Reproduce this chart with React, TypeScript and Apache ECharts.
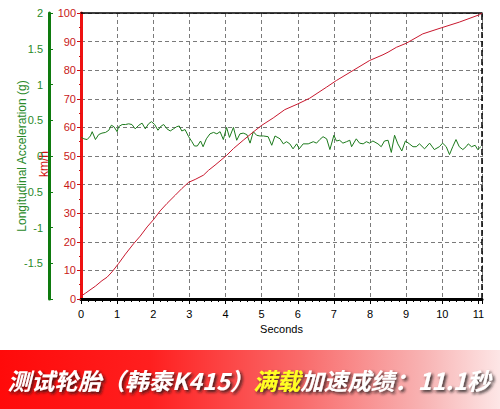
import React, { useEffect, useRef } from "react";
import * as echarts from "echarts";

const speedSeconds = [0, 0.12, 0.4, 0.58, 0.72, 0.86, 1.04, 1.23, 1.46, 1.64, 1.83, 2.01, 2.19, 2.38, 2.61, 2.79, 2.98, 3.16, 3.39, 3.53, 3.71, 4.03, 4.22, 4.49, 4.77, 5.0, 5.32, 5.64, 6.0, 6.33, 6.8, 7.07, 7.53, 7.99, 8.36, 8.5, 8.73, 9.0, 9.46, 9.97, 10.47, 11.03, 11.1];
const speedKmh = [1, 2, 4.5, 6.4, 7.6, 9.5, 12.4, 15.7, 19.4, 22, 25.2, 27.8, 30.8, 33.4, 36.3, 38.6, 40.8, 41.8, 43.3, 45, 46.8, 50.2, 52.6, 55.5, 58.4, 60.7, 63.3, 66.2, 68.2, 70.2, 74.1, 76.4, 79.9, 83.4, 85.4, 86.3, 88, 89.4, 92.7, 94.8, 96.8, 99.4, 100];

const accelSeconds = [0.01, 0.08, 0.17, 0.26, 0.31, 0.40, 0.49, 0.58, 0.68, 0.77, 0.84, 0.91, 1.0, 1.04, 1.14, 1.23, 1.32, 1.41, 1.50, 1.60, 1.69, 1.78, 1.87, 1.95, 2.04, 2.13, 2.22, 2.29, 2.38, 2.47, 2.56, 2.65, 2.72, 2.79, 2.88, 2.98, 3.07, 3.14, 3.22, 3.31, 3.38, 3.47, 3.57, 3.67, 3.76, 3.85, 3.94, 4.03, 4.11, 4.22, 4.31, 4.40, 4.49, 4.59, 4.68, 4.77, 4.86, 4.95, 5.05, 5.18, 5.28, 5.37, 5.51, 5.60, 5.69, 5.78, 5.87, 5.97, 6.04, 6.15, 6.29, 6.43, 6.52, 6.61, 6.70, 6.80, 6.89, 7.0, 7.07, 7.16, 7.25, 7.35, 7.44, 7.49, 7.62, 7.71, 7.81, 7.90, 7.99, 8.08, 8.22, 8.31, 8.40, 8.50, 8.59, 8.68, 8.77, 8.88, 8.98, 9.09, 9.19, 9.28, 9.37, 9.51, 9.65, 9.78, 9.92, 10.01, 10.11, 10.20, 10.29, 10.38, 10.47, 10.57, 10.66, 10.72, 10.81, 10.91, 10.98, 11.07];
const accelG = [0.26, 0.24, 0.23, 0.28, 0.34, 0.23, 0.30, 0.32, 0.33, 0.36, 0.43, 0.41, 0.34, 0.41, 0.44, 0.44, 0.45, 0.44, 0.38, 0.43, 0.46, 0.38, 0.45, 0.48, 0.44, 0.36, 0.42, 0.44, 0.38, 0.35, 0.38, 0.41, 0.42, 0.35, 0.37, 0.27, 0.20, 0.14, 0.14, 0.21, 0.13, 0.24, 0.31, 0.33, 0.31, 0.34, 0.23, 0.40, 0.26, 0.40, 0.22, 0.31, 0.32, 0.30, 0.18, 0.34, 0.29, 0.28, 0.28, 0.27, 0.15, 0.28, 0.24, 0.17, 0.20, 0.17, 0.10, 0.17, 0.10, 0.17, 0.17, 0.20, 0.18, 0.23, 0.27, 0.24, 0.09, 0.29, 0.21, 0.22, 0.18, 0.20, 0.22, 0.13, 0.24, 0.18, 0.17, 0.20, 0.18, 0.21, 0.17, 0.13, 0.21, 0.22, 0.05, 0.29, 0.17, 0.07, 0.21, 0.17, 0.13, 0.13, 0.17, 0.10, 0.18, 0.09, 0.13, 0.18, 0.13, 0.02, 0.13, 0.23, 0.13, 0.09, 0.13, 0.17, 0.13, 0.15, 0.09, 0.13];

const finishTime = 11.1;
const xAxisName = "Seconds";
const speedAxisName = "km/h";
const accelAxisName = "Longitudinal Acceleration (g)";
const titleBefore = "测试轮胎（韩泰K415）";
const titleHighlight = "满载";
const titleAfter = "加速成绩：11.1秒";

const FONT = "'Liberation Sans', Arial, sans-serif";

export default function App() {
  const ref = useRef<HTMLDivElement>(null);
  useEffect(() => {
    if (!ref.current) return;
    const chart = echarts.init(ref.current, null, { renderer: "svg" });
    const speedData = speedSeconds.map((t, i) => [t, speedKmh[i]]);
    const accelData = accelSeconds.map((t, i) => [t, accelG[i]]);
    const shadow = {
      textShadowColor: "rgba(20,20,20,0.85)",
      textShadowBlur: 3,
      textShadowOffsetX: 2,
      textShadowOffsetY: 2,
    };
    chart.setOption({
      animation: false,
      backgroundColor: "#ffffff",
      grid: { left: 81, right: 18, top: 13, bottom: 110, containLabel: false, outerBoundsMode: "none" },
      xAxis: [
        {
          type: "value",
          min: 0,
          max: finishTime,
          interval: 1,
          name: xAxisName,
          nameLocation: "middle",
          nameGap: 22,
          nameTextStyle: { color: "#000", fontFamily: FONT, fontSize: 11 },
          axisLine: { onZero: false, lineStyle: { color: "#000", width: 3 } },
          axisTick: { show: true, length: 5, lineStyle: { color: "#000", width: 1 } },
          minorTick: { show: true, splitNumber: 5, length: 3, lineStyle: { color: "#000" } },
          axisLabel: {
            color: "#000",
            fontFamily: FONT,
            fontSize: 11,
            margin: 9,
            formatter: (v: number) => (Math.abs(v - Math.round(v)) < 1e-6 ? String(Math.round(v)) : ""),
          },
          splitLine: { show: true, lineStyle: { color: "#7a7a7a", type: [4, 3], width: 1 } },
        },
        {
          type: "value",
          position: "top",
          min: 0,
          max: finishTime,
          axisLine: { show: true, onZero: false, lineStyle: { color: "#000", width: 1.5 } },
          axisTick: { show: false },
          axisLabel: { show: false },
          splitLine: { show: false },
        },
      ],
      yAxis: [
        {
          type: "value",
          min: 0,
          max: 100,
          interval: 10,
          position: "left",
          name: speedAxisName,
          nameLocation: "middle",
          nameRotate: 90,
          nameGap: 31,
          nameMoveOverlap: false,
          nameTextStyle: { color: "#d01010", fontFamily: FONT, fontSize: 12, padding: [0, 16, 0, 0] },
          axisLine: { show: true, onZero: false, lineStyle: { color: "#ee1111", width: 3 } },
          axisTick: { show: true, length: 4, lineStyle: { color: "#cc1111" } },
          minorTick: { show: true, splitNumber: 2, length: 2, lineStyle: { color: "#cc1111" } },
          axisLabel: { color: "#c81818", fontFamily: FONT, fontSize: 11, margin: 5 },
          splitLine: { show: true, lineStyle: { color: "#7a7a7a", type: [4, 3], width: 1 } },
        },
        {
          type: "value",
          min: -2,
          max: 2,
          interval: 0.5,
          position: "left",
          offset: 32,
          name: accelAxisName,
          nameLocation: "middle",
          nameRotate: 90,
          nameGap: 21,
          nameMoveOverlap: false,
          nameTextStyle: { color: "#2a8a2a", fontFamily: FONT, fontSize: 12 },
          axisLine: { show: true, onZero: false, lineStyle: { color: "#0e7a0e", width: 3 } },
          axisTick: { show: true, inside: true, length: 4, lineStyle: { color: "#0e7a0e" } },
          minorTick: { show: true, splitNumber: 5, length: 2, lineStyle: { color: "#0e7a0e" } },
          axisLabel: {
            color: "#2a8a2a",
            fontFamily: FONT,
            fontSize: 11,
            margin: 6,
            formatter: (v: number) => (v <= -2 ? "" : String(v)),
          },
          splitLine: { show: false },
        },
      ],
      series: [
        {
          type: "line",
          name: "accel",
          xAxisIndex: 0,
          yAxisIndex: 1,
          data: accelData,
          showSymbol: false,
          symbol: "none",
          lineStyle: { color: "#1c7a1c", width: 1 },
          z: 3,
        },
        {
          type: "line",
          name: "speed",
          xAxisIndex: 0,
          yAxisIndex: 0,
          data: speedData,
          showSymbol: false,
          symbol: "none",
          lineStyle: { color: "#c8182e", width: 1 },
          z: 4,
          markLine: {
            silent: true,
            symbol: "none",
            label: { show: false },
            data: [
              { xAxis: finishTime, lineStyle: { color: "#000", type: [6, 3], width: 1.5 } },
            ],
          },
        },
      ],
      graphic: [
        {
          type: "rect",
          left: 0,
          top: 350,
          shape: { width: 500, height: 59 },
          style: {
            fill: new echarts.graphic.LinearGradient(0, 0, 1, 0, [
              { offset: 0, color: "#ff0a0a" },
              { offset: 0.3, color: "#ff1f1f" },
              { offset: 0.6, color: "#f96a6a" },
              { offset: 0.85, color: "#f8b4b4" },
              { offset: 1, color: "#fde6e6" },
            ]),
          },
          z: 10,
        },
        {
          type: "text",
          x: 249,
          y: 380,
          z: 11,
          style: {
            text: `{w|${titleBefore}}{y|${titleHighlight}}{w|${titleAfter}}`,
            align: "center",
            verticalAlign: "middle",
            rich: {
              w: {
                fill: "#ffffff",
                fontFamily: "'Noto Sans CJK SC', sans-serif",
                fontWeight: "bold",
                fontStyle: "italic",
                fontSize: 23.5,
                ...shadow,
              },
              y: {
                fill: "#ffff22",
                fontFamily: "'Noto Sans CJK SC', sans-serif",
                fontWeight: "bold",
                fontStyle: "italic",
                fontSize: 23.5,
                ...shadow,
              },
            },
          },
        },
      ],
    });
    return () => chart.dispose();
  }, []);
  return (
    <div
      ref={ref}
      style={{ position: "absolute", left: 0, top: 0, width: 500, height: 409 }}
    />
  );
}
